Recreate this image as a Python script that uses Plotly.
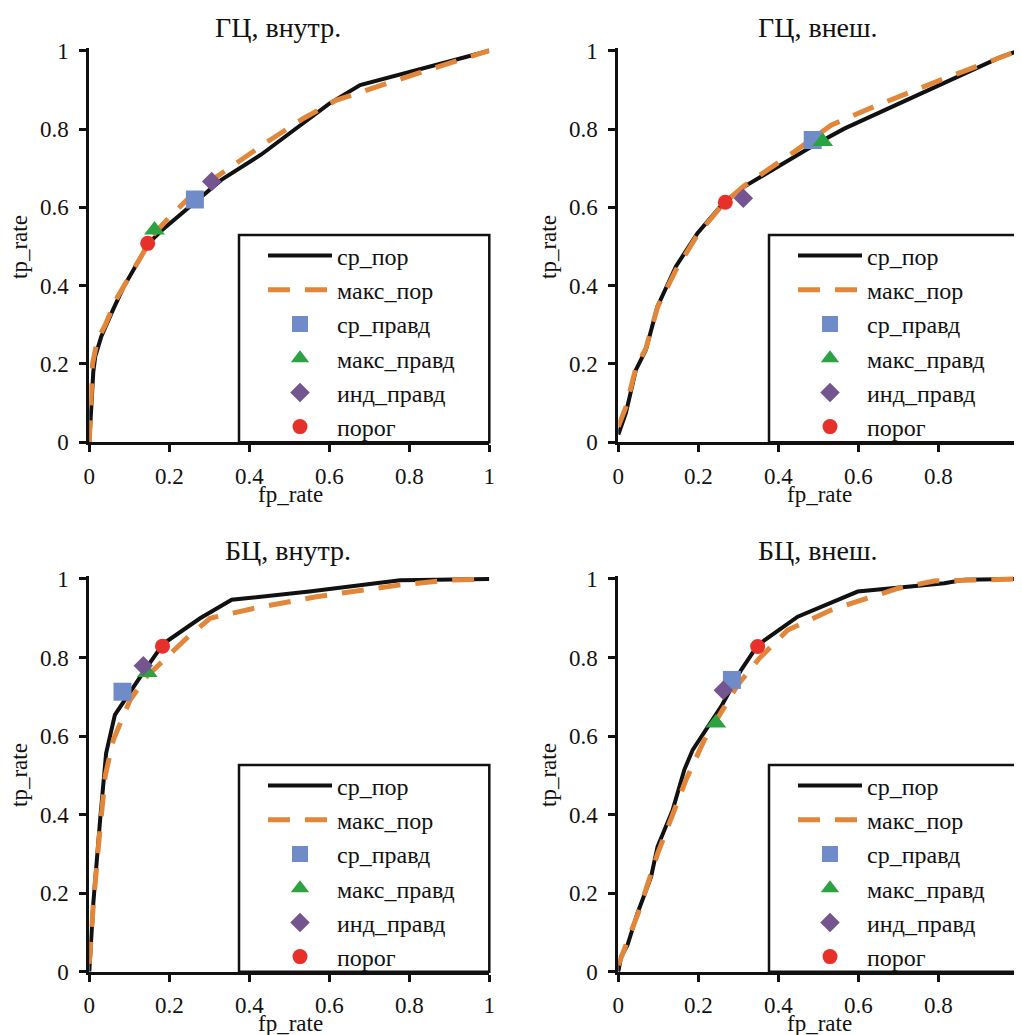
import plotly.graph_objects as go

# ---------------- data ----------------
TITLES = ["ГЦ, внутр.", "ГЦ, внеш.", "БЦ, внутр.", "БЦ, внеш."]
NAMES = ["ср_пор", "макс_пор", "ср_правд", "макс_правд", "инд_правд", "порог"]
TICK_VALS = [0, 0.2, 0.4, 0.6, 0.8, 1]
TICK_TEXT = ["0", "0.2", "0.4", "0.6", "0.8", "1"]

# ГЦ, внутр.
p1_avg_x = [0, 0.005, 0.01, 0.015, 0.03, 0.06, 0.085, 0.127, 0.148, 0.18, 0.265, 0.33, 0.43, 0.6, 0.677, 0.8, 0.96, 1]
p1_avg_y = [0, 0.1, 0.18, 0.22, 0.27, 0.34, 0.395, 0.47, 0.508, 0.54, 0.615, 0.67, 0.735, 0.865, 0.912, 0.945, 0.99, 1]
p1_max_x = [0, 0.003, 0.008, 0.02, 0.04, 0.07, 0.1, 0.13, 0.16, 0.2, 0.25, 0.3, 0.44, 0.535, 0.618, 0.71, 0.8, 0.893, 1]
p1_max_y = [0, 0.1, 0.2, 0.26, 0.3, 0.37, 0.42, 0.475, 0.53, 0.575, 0.625, 0.665, 0.764, 0.827, 0.874, 0.906, 0.935, 0.966, 1]
p1_pts_x = [0.264, 0.163, 0.306, 0.146]
p1_pts_y = [0.62, 0.542, 0.666, 0.508]

# ГЦ, внеш.
p2_avg_x = [0, 0.019, 0.044, 0.069, 0.098, 0.144, 0.198, 0.265, 0.315, 0.49, 0.565, 0.957, 1]
p2_avg_y = [0.02, 0.075, 0.185, 0.236, 0.347, 0.449, 0.534, 0.614, 0.653, 0.759, 0.801, 0.984, 1]
p2_max_x = [0, 0.019, 0.044, 0.069, 0.098, 0.144, 0.198, 0.265, 0.315, 0.44, 0.532, 0.648, 0.815, 1]
p2_max_y = [0.04, 0.09, 0.19, 0.24, 0.345, 0.44, 0.53, 0.612, 0.655, 0.742, 0.81, 0.861, 0.929, 1]
p2_pts_x = [0.486, 0.511, 0.3125, 0.2675]
p2_pts_y = [0.772, 0.768, 0.623, 0.613]

# БЦ, внутр.
p3_avg_x = [0, 0.005, 0.01, 0.027, 0.042, 0.064, 0.1, 0.14, 0.185, 0.277, 0.356, 0.55, 0.777, 1]
p3_avg_y = [0, 0.1, 0.174, 0.386, 0.556, 0.654, 0.71, 0.77, 0.835, 0.9, 0.947, 0.968, 0.997, 1]
p3_max_x = [0, 0.01, 0.025, 0.04, 0.06, 0.102, 0.143, 0.193, 0.243, 0.302, 0.41, 0.568, 0.777, 0.9, 1]
p3_max_y = [0.02, 0.17, 0.344, 0.5, 0.59, 0.692, 0.751, 0.802, 0.849, 0.9, 0.925, 0.955, 0.985, 0.997, 1]
p3_pts_x = [0.083, 0.145, 0.135, 0.183]
p3_pts_y = [0.713, 0.762, 0.779, 0.829]

# БЦ, внеш.
p4_avg_x = [0, 0.007, 0.023, 0.048, 0.082, 0.098, 0.136, 0.165, 0.186, 0.257, 0.307, 0.349, 0.4485, 0.5985, 0.815, 0.865, 1]
p4_avg_y = [0, 0.038, 0.068, 0.149, 0.242, 0.318, 0.412, 0.514, 0.565, 0.675, 0.768, 0.832, 0.904, 0.968, 0.989, 0.998, 1]
p4_max_x = [0, 0.02, 0.05, 0.098, 0.14, 0.169, 0.215, 0.265, 0.2985, 0.3525, 0.4235, 0.532, 0.607, 0.6985, 0.79, 1]
p4_max_y = [0.017, 0.07, 0.15, 0.3, 0.412, 0.488, 0.59, 0.675, 0.73, 0.798, 0.87, 0.921, 0.946, 0.976, 0.995, 1]
p4_pts_x = [0.284, 0.244, 0.2625, 0.3485]
p4_pts_y = [0.743, 0.633, 0.717, 0.828]

PANELS = [
    (p1_avg_x, p1_avg_y, p1_max_x, p1_max_y, p1_pts_x, p1_pts_y),
    (p2_avg_x, p2_avg_y, p2_max_x, p2_max_y, p2_pts_x, p2_pts_y),
    (p3_avg_x, p3_avg_y, p3_max_x, p3_max_y, p3_pts_x, p3_pts_y),
    (p4_avg_x, p4_avg_y, p4_max_x, p4_max_y, p4_pts_x, p4_pts_y),
]

# ---------------- style ----------------
PAGE_W, PAGE_H = 1022, 1035
OFF = 8                      # default body margin of the html page
W, H = PAGE_W - OFF, PAGE_H - OFF
FONT = "Liberation Serif"
BLACK = "#111111"
ORANGE = "#E2873A"
MARKER_SYMBOLS = ["square", "triangle-up", "diamond", "circle"]
MARKER_COLORS = ["#6F8CC8", "#2CA243", "#74558F", "#E8302A"]
MARKER_SIZES = [18, 18, 15, 15]


def px(v):
    return (v - OFF) / W


def py(v):
    return 1 - (v - OFF) / H


YTOP = 1.008
# page-pixel geometry of each panel: (x for 0, x for 1, y for 1, y for 0)
GEOM = [
    (89.3, 489.3, 50.7, 442.3),
    (618.3, 1018.3, 50.7, 442.3),
    (89.3, 489.3, 579.0, 971.7),
    (618.3, 1018.3, 579.0, 971.7),
]
TITLE_POS = [(278, 28), (818, 28), (288, 550), (818, 550)]
XTITLE_POS = [(290, 494), (819, 494), (290, 1023), (819, 1023)]
YTITLE_POS = [(19, 247), (548, 247), (19, 775), (548, 775)]
LEGEND_POS = [(263, 233.5), (793, 233.5), (263, 763.5), (793, 763.5)]
LEGEND_BOX = [(239, 235), (769, 235), (239, 765), (769, 765)]

fig = go.Figure()
layout = dict(
    width=W, height=H, autosize=False,
    margin=dict(l=0, r=0, t=0, b=0),
    template="none",
    paper_bgcolor="white", plot_bgcolor="white",
    font=dict(family=FONT, size=23, color=BLACK),
    annotations=[], shapes=[],
)

for i, (ax, ay, mx, my, ptx, pty) in enumerate(PANELS):
    k = "" if i == 0 else str(i + 1)
    xa, ya = "x" + k, "y" + k
    leg = "legend" + k
    x0, x1, yt, yb = GEOM[i]
    span = yb - yt
    yt_ext = yt - (YTOP - 1) * span
    common = dict(
        showline=True, linecolor=BLACK, linewidth=3, mirror=False,
        ticks="outside", ticklen=7, tickwidth=2.5, tickcolor=BLACK,
        tickvals=TICK_VALS, ticktext=TICK_TEXT, ticklabeloverflow="allow",
        showgrid=False, zeroline=False, automargin=False,
        tickfont=dict(family=FONT, size=23, color=BLACK),
    )
    layout["xaxis" + k] = dict(
        domain=[px(x0), px(x1)], range=[0, 1], anchor=ya,
        ticklabelstandoff=4, **common)
    layout["yaxis" + k] = dict(
        domain=[py(yb), py(yt_ext)], range=[0, YTOP], anchor=xa,
        ticklabelstandoff=6, **common)

    # legend frame (white, black border) reaching the plot's right/bottom edges
    bx, by = LEGEND_BOX[i]
    layout["shapes"].append(dict(
        type="rect", xref="paper", yref="paper", layer="above",
        x0=px(bx), x1=px(x1), y0=py(yb), y1=py(by),
        line=dict(color=BLACK, width=2.5), fillcolor="white",
    ))
    lx, ly = LEGEND_POS[i]
    layout[leg] = dict(
        x=px(lx), y=py(ly), xanchor="left", yanchor="top",
        xref="paper", yref="paper",
        bgcolor="rgba(0,0,0,0)", borderwidth=0,
        font=dict(family=FONT, size=24, color=BLACK),
        itemwidth=64, tracegroupgap=0,
    )

    fig.add_trace(go.Scatter(
        x=ax, y=ay, mode="lines", name=NAMES[0], xaxis=xa, yaxis=ya,
        legend=leg, line=dict(color=BLACK, width=4),
    ))
    fig.add_trace(go.Scatter(
        x=mx, y=my, mode="lines", name=NAMES[1], xaxis=xa, yaxis=ya,
        legend=leg, line=dict(color=ORANGE, width=5, dash="22px,15px"),
    ))
    for j in range(4):
        fig.add_trace(go.Scatter(
            x=[ptx[j]], y=[pty[j]], mode="markers", name=NAMES[2 + j],
            xaxis=xa, yaxis=ya, legend=leg, cliponaxis=False,
            marker=dict(symbol=MARKER_SYMBOLS[j], color=MARKER_COLORS[j],
                        size=MARKER_SIZES[j], line=dict(width=0)),
        ))

    tx, ty = TITLE_POS[i]
    layout["annotations"].append(dict(
        text=TITLES[i], x=px(tx), y=py(ty), xref="paper", yref="paper",
        xanchor="center", yanchor="middle", showarrow=False,
        font=dict(family=FONT, size=28, color=BLACK),
    ))
    fx, fy = XTITLE_POS[i]
    layout["annotations"].append(dict(
        text="fp_rate", x=px(fx), y=py(fy), xref="paper", yref="paper",
        xanchor="center", yanchor="middle", showarrow=False,
        font=dict(family=FONT, size=23, color=BLACK),
    ))
    gx, gy = YTITLE_POS[i]
    layout["annotations"].append(dict(
        text="tp_rate", x=px(gx), y=py(gy), xref="paper", yref="paper",
        xanchor="center", yanchor="middle", showarrow=False, textangle=-90,
        font=dict(family=FONT, size=23, color=BLACK),
    ))

fig.update_layout(**layout)
fig.write_html("out.html")
